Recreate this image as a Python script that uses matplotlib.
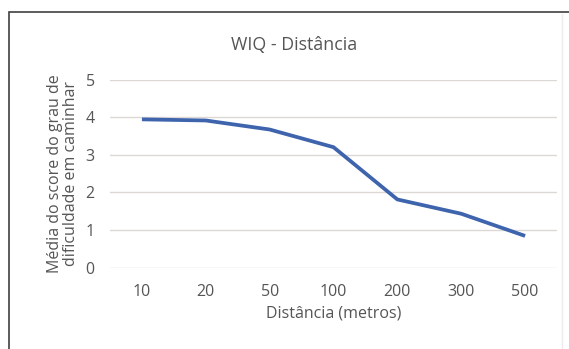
import matplotlib.pyplot as plt
from matplotlib.lines import Line2D
from matplotlib.patches import Rectangle

distances = ["10", "20", "50", "100", "200", "300", "500"]
mean_scores = [3.94, 3.91, 3.67, 3.20, 1.81, 1.43, 0.84]
y_ticks = [0, 1, 2, 3, 4, 5]

TEXT_GRAY = "#555555"
LINE_BLUE = "#3d64ad"

plt.rcParams["font.family"] = ["Open Sans", "DejaVu Sans"]

fig = plt.figure(figsize=(5.69, 3.49), dpi=100)
fig.patch.set_facecolor("white")

# chart frame: dark top/left edges, faint right edge
fig.patches.append(Rectangle((9 / 569, -0.02), 1.0, 1 - 12 / 349 + 0.02,
                             transform=fig.transFigure, fill=False,
                             edgecolor="#404040", linewidth=1.2))
fig.lines.append(Line2D([562 / 569, 562 / 569], [0, 1 - 14 / 349],
                        transform=fig.transFigure, color="#ececec", linewidth=1.0))

ax = fig.add_axes([110 / 569, 1 - 267.5 / 349, 447 / 569, 188 / 349])
x = range(len(distances))
ax.plot(x, mean_scores, color=LINE_BLUE, linewidth=2.7, solid_capstyle="butt")

ax.set_xlim(-0.5, len(distances) - 0.5)
ax.set_ylim(0, 5)
ax.set_yticks(y_ticks)
ax.set_xticks(list(x))
ax.set_xticklabels(distances)
ax.grid(axis="y", color="#dcd8d5", linewidth=1.0)
ax.set_axisbelow(True)
for spine in ax.spines.values():
    spine.set_visible(False)
ax.tick_params(length=0, colors=TEXT_GRAY, labelsize=11.5)
ax.tick_params(axis="x", pad=12)
ax.tick_params(axis="y", pad=11)

ax.set_xlabel("Distância (metros)", color=TEXT_GRAY, fontsize=11.5, labelpad=4)
ax.set_ylabel("Média do score do grau de\ndificuldade em caminhar",
              color=TEXT_GRAY, fontsize=11.5, labelpad=5, linespacing=0.95)
fig.text(0.5 + 10 / 569, 1 - 45 / 349, "WIQ - Distância", ha="center",
         va="center", color=TEXT_GRAY, fontsize=12.8)

fig.savefig("out.png", dpi=100)
